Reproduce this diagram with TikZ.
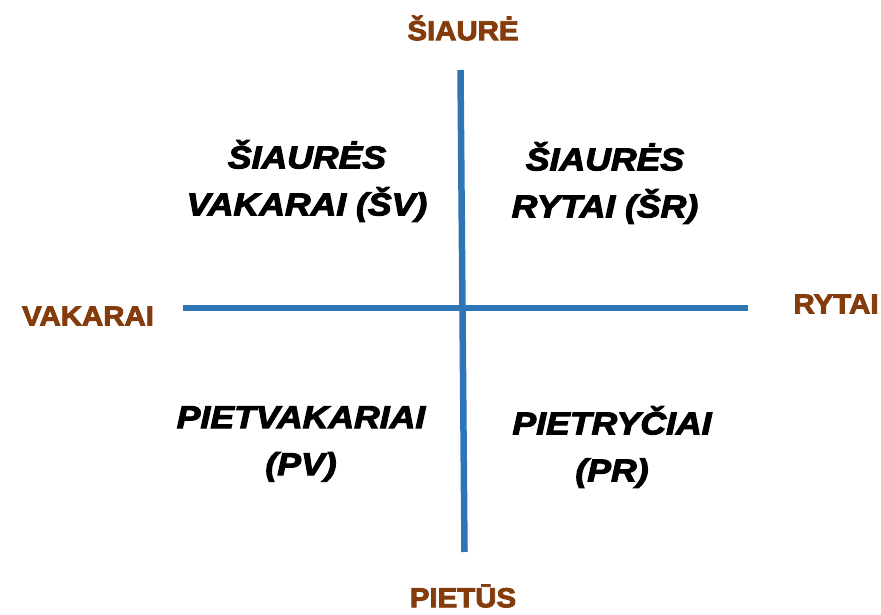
\documentclass[tikz,border=0pt]{standalone}
\usepackage{fontspec}
\setmainfont{Liberation Sans}[
  BoldFeatures={FakeBold=3.2,FakeStretch=1.07},
  BoldItalicFeatures={FakeBold=3.4,FakeStretch=1.13}]
\definecolor{axisblue}{HTML}{2E75B6}
\definecolor{dirbrown}{HTML}{843C0C}
\begin{document}
\begin{tikzpicture}[x=1pt,y=1pt,
  axis/.style={draw=axisblue,line width=6.5pt},
  dirlabel/.style={text=dirbrown,font=\fontsize{27.5}{30}\selectfont\bfseries,inner sep=0pt},
  quad/.style={text=black,font=\fontsize{31.5}{47}\selectfont\bfseries\itshape,align=center,inner sep=0pt}]
\useasboundingbox (0,0) rectangle (881,614);
\coordinate (vtop) at (460.5,544);
\coordinate (vbot) at (464.5,62);
\coordinate (hleft) at (183,306);
\coordinate (hright) at (748,306);
\draw[axis] (vtop) -- (vbot);
\draw[axis] (hleft) -- (hright);
\node[dirlabel] (n) at (463,586) {ŠIAURĖ};
\node[dirlabel] (w) at (88,298) {VAKARAI};
\node[dirlabel] (e) at (836,310) {RYTAI};
\node[dirlabel] (s) at (463,18) {PIETŪS};
\node[quad] (nw) at (307,433) {ŠIAURĖS\\VAKARAI (ŠV)};
\node[quad] (ne) at (605,431) {ŠIAURĖS\\RYTAI (ŠR)};
\node[quad] (sw) at (301,170) {PIETVAKARIAI\\(PV)};
\node[quad] (se) at (612,167) {PIETRYČIAI\\(PR)};
\end{tikzpicture}
\end{document}
